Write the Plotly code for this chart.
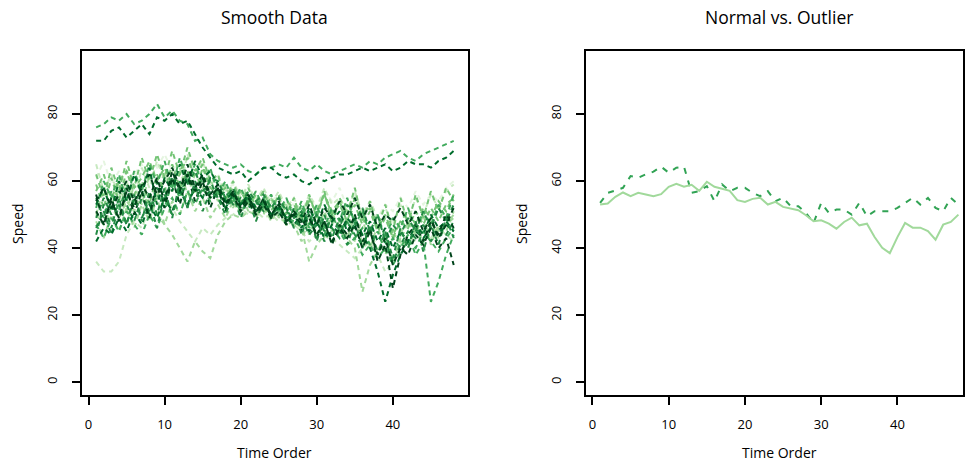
import plotly.graph_objects as go

time_order = list(range(1, 49))

# ---- Smooth Data panel (left) ----
smooth_upper_a = [76,77,79,78,80,77,78,80,83,79,81,78,77,72,73,68,66,65,64,65,63,62,64,64,65,64,67,64,63,65,63,62,63,64,65,64,66,65,67,68,69,67,66,68,69,70,71,72]
smooth_upper_b = [72,72,75,76,73,75,77,74,79,78,80,77,78,74,70,67,64,63,62,63,60,62,64,64,62,61,62,60,59,61,60,61,62,62,63,64,63,64,65,63,64,66,65,65,64,66,67,69]
smooth_a = [44,53,46,55,47,56,48,57,50,58,49,60,52,59,51,57, 55,50,56,49,55,48,54,49,53,47, 52,44,51,42,50,43,49,41,48,40,47,38,45,37,46,40,48,39,47,41,49,43]
smooth_b = [62,55,64,57,66,58,67,60,68,61,69,62,70,63,67,60, 62,54,60,53,58,52,57,51,56,50, 55,48,56,49,57,47,55,50,58,48,54,46,53,45,55,47,56,49,57,51,58,54]
smooth_c = [50,58,52,60,51,59,53,62,55,63,57,64,56,62,58,61, 54,59,52,57,51,56,50,55,49,53, 46,52,44,50,43,51,45,52,42,49,40,47,38,44,42,48,44,50,41,47,45,51]
smooth_d = [56,47,55,48,58,50,57,49,60,52,61,53,62,54,60,52, 58,51,57,52,56,50,55,49,54,48, 51,45,50,43,48,41,47,44,50,42,46,36,41,28,38,44,47,42,48,44,50,46]
smooth_e = [52,60,55,62,54,63,57,65,59,66,58,67,60,65,59,64, 56,60,54,58,53,57,52,56,51,55, 49,54,47,53,46,52,48,55,47,51,44,50,43,49,46,52,45,51,47,53,49,56]
smooth_f = [48,43,50,45,52,46,53,48,55,47,54,50,57,51,55,49, 53,49,54,50,55,49,53,48,52,47, 47,42,49,44,51,45,48,43,50,41,46,39,44,36,43,40,46,42,48,43,47,50]
smooth_g = [53,58,51,60,54,62,56,64,53,61,57,65,59,66,61,63, 59,54,57,53,56,52,54,50,53,49, 50,46,52,47,53,48,51,45,49,44,48,42,46,40,45,42,47,44,50,46,48,45]
smooth_h = [59,52,61,54,63,56,60,53,62,57,65,58,63,56,64,58, 57,55,58,54,56,53,57,52,55,51, 53,49,55,50,56,51,54,48,53,47,51,45,49,43,48,46,51,47,52,48,53,55]
smooth_i = [46,51,44,53,47,55,49,54,46,56,50,58,52,60,55,61, 60,55,58,53,57,54,56,52,55,51, 49,51,47,50,45,49,46,53,48,52,45,50,42,47,44,49,45,51,46,52,48,53]
smooth_j = [65,57,62,55,60,54,64,58,66,60,63,57,68,61,66,59, 62,57,60,55,59,54,58,53,57,52, 55,50,56,52,58,53,55,51,57,50,54,49,52,47,53,48,55,50,56,52,57,59]
smooth_k = [51,47,54,49,57,52,59,55,61,54,63,57,65,58,62,56, 59,53,57,52,55,51,54,50,53,48, 50,47,49,44,48,42,46,43,47,40,45,38,43,35,40,38,44,41,46,40,43,35]
smooth_l = [55,49,57,51,59,53,58,50,56,52,60,55,63,57,61,55, 57,52,55,51,54,53,55,50,52,49, 48,53,46,51,44,50,45,48,43,46,41,45,39,43,40,44,38,42,24,30,38,44]
smooth_m = [42,46,44,49,45,51,47,53,49,55,51,57,53,58,55,57, 55,52,56,53,55,51,54,50,52,49, 47,50,45,48,43,47,44,49,46,44,40,33,24,32,38,42,45,43,46,44,47,45]
smooth_n = [36,33,33,36,44,48,46,52,50,55,52,48,45,42,46,44, 47,49,50,52,50,51,49,50,48,49, 47,45,42,44,46,43,41,39,37,40,42,38,33,36,41,44,42,45,43,46,44,42]
smooth_o = [50,47,52,49,54,51,56,53,50,47,44,40,36,42,39,37, 44,48,50,49,51,50,52,49,50,47, 48,46,36,41,44,42,45,43,40,27,35,39,41,43,45,47,44,46,48,45,47,49]
smooth_p = [57,62,55,60,63,58,61,66,60,64,59,62,67,61,65,58, 56,58,54,57,53,56,52,55,51,54, 52,49,54,51,56,50,53,48,55,49,52,46,50,44,48,51,47,52,49,54,51,56]
smooth_q = [49,55,50,57,53,48,55,51,58,54,61,56,59,63,57,60, 55,57,53,55,52,54,51,53,50,52, 46,49,44,47,42,46,43,48,44,41,45,39,42,36,41,45,43,47,42,46,44,48]
smooth_r = [54,58,52,56,60,54,58,62,56,60,64,58,62,57,61,55, 58,53,56,51,54,50,53,49,51,47, 51,48,53,47,52,49,54,50,55,49,53,46,50,48,52,47,51,45,49,43,47,52]
smooth_s = [61,66,59,63,57,62,65,60,64,68,63,66,61,64,59,63, 60,57,59,56,58,55,57,54,56,53, 53,50,55,52,57,54,58,52,56,50,54,49,53,51,55,52,57,53,56,54,58,60]
smooth_t = [47,43,49,45,51,47,44,50,46,52,55,50,57,53,58,54, 57,54,55,52,54,51,53,50,52,49, 50,46,48,44,47,42,45,41,43,38,41,37,40,35,39,42,40,45,42,39,43,46]

smooth_series = [smooth_s, smooth_n, smooth_j, smooth_f, smooth_o, smooth_c,
                 smooth_h, smooth_p, smooth_b, smooth_e, smooth_l, smooth_t,
                 smooth_i, smooth_q, smooth_upper_a, smooth_upper_b, smooth_g,
                 smooth_m, smooth_d, smooth_a, smooth_k, smooth_r]
smooth_colors = ["#e5f5e0", "#c7e9c0", "#c7e9c0", "#a1d99b", "#a1d99b", "#a1d99b",
                 "#74c476", "#74c476", "#74c476", "#41ab5d", "#41ab5d", "#41ab5d",
                 "#238b45", "#238b45", "#41ab5d", "#006d2c", "#006d2c",
                 "#006d2c", "#00441b", "#238b45", "#00441b", "#00441b"]

# ---- Normal vs. Outlier panel (right) ----
outlier_speed = [53.5,56.5,57.2,58,61.5,61,62,62.8,64.3,62.5,64,64.3,56.5,57,58.5,54,59,57,58,58,56.5,55.5,57,54,55,52.5,52.5,50.5,47.5,53.5,50.5,51.5,51.5,50,53.5,49.5,51,51,51,52,53.5,55,53,55,52,51,55,53]
normal_speed = [53.0,53.3,55.3,56.6,55.5,56.5,56.0,55.5,56.1,58.3,59.2,58.3,58.9,57.1,59.8,58.3,57.7,57.1,54.3,53.8,54.7,55.0,53.0,53.8,52.3,51.8,51.3,49.8,48.0,48.3,47.3,45.8,47.8,49.1,46.8,47.3,43.3,40.1,38.5,43.3,47.5,46.1,46.1,45.1,42.5,47.0,47.8,50.0]

x_ticks = [0, 10, 20, 30, 40]
y_ticks = [0, 20, 40, 60, 80]

W, H = 965, 461
FONT = "Open Sans"

fig = go.Figure()
for ys, col in zip(smooth_series, smooth_colors):
    fig.add_trace(go.Scatter(x=time_order, y=ys, mode="lines", xaxis="x", yaxis="y",
                             line=dict(color=col, width=2, dash="5px,4px"),
                             showlegend=False, hoverinfo="skip"))

fig.add_trace(go.Scatter(x=time_order, y=outlier_speed, mode="lines", xaxis="x2", yaxis="y2",
                         line=dict(color="#31a354", width=2, dash="6px,7px"), showlegend=False))
fig.add_trace(go.Scatter(x=time_order, y=normal_speed, mode="lines", xaxis="x2", yaxis="y2",
                         line=dict(color="#a1d99b", width=2), showlegend=False))

ydom = [1 - 395 / H, 1 - 51 / H]
axis_common = dict(showgrid=False, zeroline=False, showline=True, linecolor="black",
                   linewidth=1.6, mirror=True, ticks="outside", ticklen=8, tickwidth=1.5,
                   tickcolor="black", tickfont=dict(family=FONT, size=13, color="#000"))

fig.update_layout(
    width=W, height=H, margin=dict(l=0, r=0, t=0, b=0),
    paper_bgcolor="white", plot_bgcolor="white",
    xaxis=dict(domain=[82 / W, 469 / W], range=[-0.88, 49.88], tickvals=x_ticks,
               anchor="y", ticklabelstandoff=9, **axis_common),
    yaxis=dict(domain=ydom, range=[-3.8, 98.8], tickvals=y_ticks, tickangle=-90,
               anchor="x", ticklabelstandoff=10, **axis_common),
    xaxis2=dict(domain=[587.3 / W, 1.0], range=[-0.84, 48.6], tickvals=x_ticks,
                anchor="y2", ticklabelstandoff=9, **axis_common),
    yaxis2=dict(domain=ydom, range=[-3.8, 98.8], tickvals=y_ticks, tickangle=-90,
                anchor="x2", ticklabelstandoff=10, **axis_common),
)

def label(text, px, py, size, angle=0):
    fig.add_annotation(text=text, xref="paper", yref="paper", x=px / W, y=1 - py / H,
                       xanchor="center", yanchor="middle", showarrow=False, textangle=angle,
                       font=dict(family=FONT, size=size, color="#000"))

label("Smooth Data", 275.5, 17, 17.5)
label("Normal vs. Outlier", 781, 17, 17.5)
label("Time Order", 275.5, 452, 14)
label("Time Order", 781, 452, 14)
label("Speed", 17, 223, 14, -90)
label("Speed", 522, 223, 14, -90)

fig.write_html("out.html")
